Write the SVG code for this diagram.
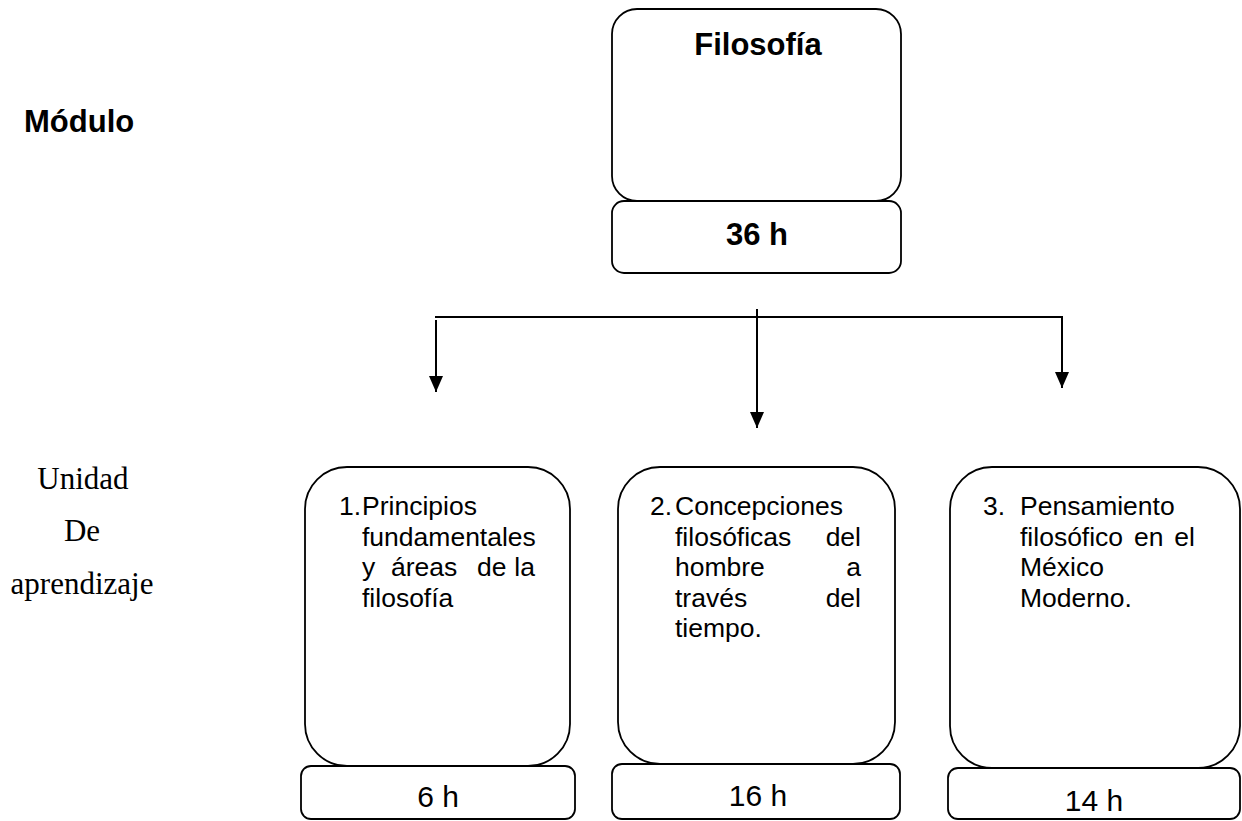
<svg xmlns="http://www.w3.org/2000/svg" width="1242" height="821" viewBox="0 0 1242 821">
<style>
.box{fill:#fff;stroke:#000;stroke-width:1.8}
.conn{stroke:#000;stroke-width:2;fill:none}
.b{font-family:"Liberation Sans",Arial,sans-serif;font-weight:bold;font-size:31px;fill:#000}
.t{font-family:"Liberation Sans",Arial,sans-serif;font-size:26.5px;fill:#000}
.h{font-family:"Liberation Sans",Arial,sans-serif;font-size:30px;fill:#000;text-anchor:middle}
.s{font-family:"Liberation Serif","Times New Roman",serif;font-size:31px;fill:#000;text-anchor:middle}
</style>
<defs>
<marker id="arr" markerUnits="userSpaceOnUse" markerWidth="16" markerHeight="14" refX="16" refY="7" orient="auto">
<path d="M0,0 L16,7 L0,14 z" fill="#000"/>
</marker>
</defs>
<rect width="1242" height="821" fill="#fff"/>

<g id="label-modulo"><text class="b" x="24" y="132" font-size="31.5">Módulo</text></g>
<g id="label-unidad">
<text class="s" x="83" y="489">Unidad</text>
<text class="s" x="82" y="541">De</text>
<text class="s" x="82" y="594">aprendizaje</text>
</g>

<g id="node-filosofia">
<rect class="box" x="612" y="9" width="289" height="192" rx="25"/>
<text class="b" x="758" y="55" text-anchor="middle">Filosofía</text>
</g>
<g id="node-36h">
<rect class="box" x="612" y="201" width="289" height="72" rx="12"/>
<text class="b" x="757" y="245" text-anchor="middle">36 h</text>
</g>

<g id="connectors">
<line class="conn" x1="435" y1="317" x2="1063" y2="317"/>
<line class="conn" x1="757" y1="309" x2="757" y2="428" marker-end="url(#arr)"/>
<line class="conn" x1="436" y1="320" x2="436" y2="392" marker-end="url(#arr)"/>
<line class="conn" x1="1062" y1="317" x2="1062" y2="388" marker-end="url(#arr)"/>
</g>

<g id="node-unidad1">
<rect class="box" x="305" y="467" width="265" height="299" rx="42"/>
<text class="t" x="339" y="515">1.</text>
<text class="t" x="362" y="515">Principios</text>
<text class="t" x="362" y="545.5">fundamentales</text>
<text class="t" x="362" y="576">y</text>
<text class="t" x="391" y="576">áreas</text>
<text class="t" x="477" y="576">de</text>
<text class="t" x="535" y="576" text-anchor="end">la</text>
<text class="t" x="362" y="606.5">filosofía</text>
</g>
<g id="node-6h">
<rect class="box" x="301" y="766" width="274" height="53" rx="10"/>
<text class="h" x="438" y="807">6 h</text>
</g>

<g id="node-unidad2">
<rect class="box" x="618" y="467" width="277" height="297" rx="42"/>
<text class="t" x="650" y="515">2.</text>
<text class="t" x="675" y="515">Concepciones</text>
<text class="t" x="675" y="545.5">filosóficas</text>
<text class="t" x="861" y="545.5" text-anchor="end">del</text>
<text class="t" x="675" y="576">hombre</text>
<text class="t" x="861" y="576" text-anchor="end">a</text>
<text class="t" x="675" y="606.5">través</text>
<text class="t" x="861" y="606.5" text-anchor="end">del</text>
<text class="t" x="675" y="637">tiempo.</text>
</g>
<g id="node-16h">
<rect class="box" x="612" y="764" width="288" height="55" rx="10"/>
<text class="h" x="758" y="806">16 h</text>
</g>

<g id="node-unidad3">
<rect class="box" x="950" y="467" width="290" height="301" rx="42"/>
<text class="t" x="983" y="515">3.</text>
<text class="t" x="1020" y="515">Pensamiento</text>
<text class="t" x="1020" y="545.5">filosófico</text>
<text class="t" x="1134" y="545.5">en</text>
<text class="t" x="1195" y="545.5" text-anchor="end">el</text>
<text class="t" x="1020" y="576">México</text>
<text class="t" x="1020" y="606.5">Moderno.</text>
</g>
<g id="node-14h">
<rect class="box" x="948" y="768" width="292" height="51" rx="10"/>
<text class="h" x="1094" y="811">14 h</text>
</g>
</svg>
